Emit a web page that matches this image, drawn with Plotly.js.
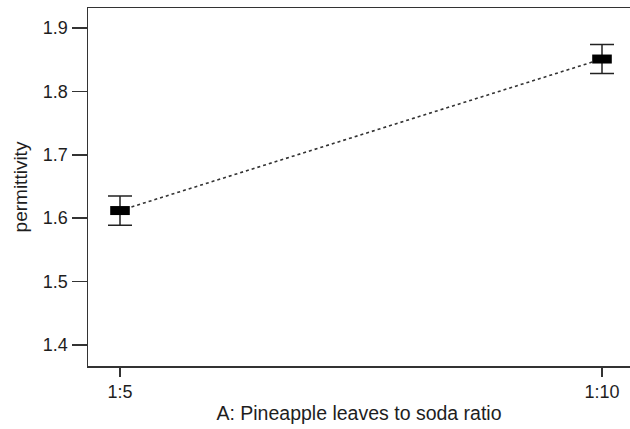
<!DOCTYPE html>
<html>
<head>
<meta charset="utf-8">
<script src="https://cdn.plot.ly/plotly-3.0.1.min.js"></script>
<style>
  html, body { margin: 0; padding: 0; background: #ffffff; }
  #chart { width: 630px; height: 429px; }
</style>
</head>
<body>
<div id="chart"></div>
<script>
// Factor levels and mean permittivity with confidence half-widths
const ratioLabels = ['1:5', '1:10'];
const ratioPositions = [0, 1];
const permittivity = [1.612, 1.851];
const errorHalfWidth = [0.023, 0.023];
const yTickValues = [1.4, 1.5, 1.6, 1.7, 1.8, 1.9];

const ink = '#1e1e1e';
const font = 'Liberation Sans, Arial, sans-serif';

const trace = {
  type: 'scatter',
  mode: 'lines+markers',
  x: ratioPositions,
  y: permittivity,
  line: { color: '#333333', width: 1.6, dash: 'dot' },
  marker: {
    symbol: 'line-ew',
    size: 14,
    color: '#000000',
    line: { color: '#000000', width: 9 }
  },
  error_y: {
    type: 'data',
    array: errorHalfWidth,
    visible: true,
    color: '#222222',
    thickness: 1.5,
    width: 12
  },
  hoverinfo: 'skip',
  showlegend: false
};

const layout = {
  width: 630,
  height: 429,
  margin: { l: 88, r: 0, t: 8, b: 63 },
  paper_bgcolor: '#ffffff',
  plot_bgcolor: '#ffffff',
  font: { family: font, color: ink, size: 18 },
  xaxis: {
    range: [-0.0664, 1.0581],
    tickmode: 'array',
    tickvals: ratioPositions,
    ticktext: ratioLabels,
    ticks: 'outside',
    ticklen: 9,
    tickwidth: 1.5,
    tickcolor: '#333333',
    showline: true,
    linecolor: '#333333',
    linewidth: 1.5,
    mirror: true,
    showgrid: false,
    zeroline: false,
    tickfont: { family: font, size: 18, color: ink },
    title: {
      text: 'A: Pineapple leaves to soda ratio',
      font: { family: font, size: 19.5, color: ink },
      standoff: 5
    }
  },
  yaxis: {
    range: [1.3668, 1.9315],
    tickmode: 'array',
    tickvals: yTickValues,
    ticktext: yTickValues.map(v => v.toFixed(1)),
    ticks: 'outside',
    ticklen: 15,
    tickwidth: 1.5,
    tickcolor: '#333333',
    showline: true,
    linecolor: '#333333',
    linewidth: 1.5,
    showgrid: false,
    zeroline: false,
    tickfont: { family: font, size: 18, color: ink },
    title: {
      text: 'permittivity',
      font: { family: font, size: 19, color: ink },
      standoff: 10
    }
  }
};

Plotly.newPlot('chart', [trace], layout, { staticPlot: true, displayModeBar: false });
</script>
</body>
</html>
